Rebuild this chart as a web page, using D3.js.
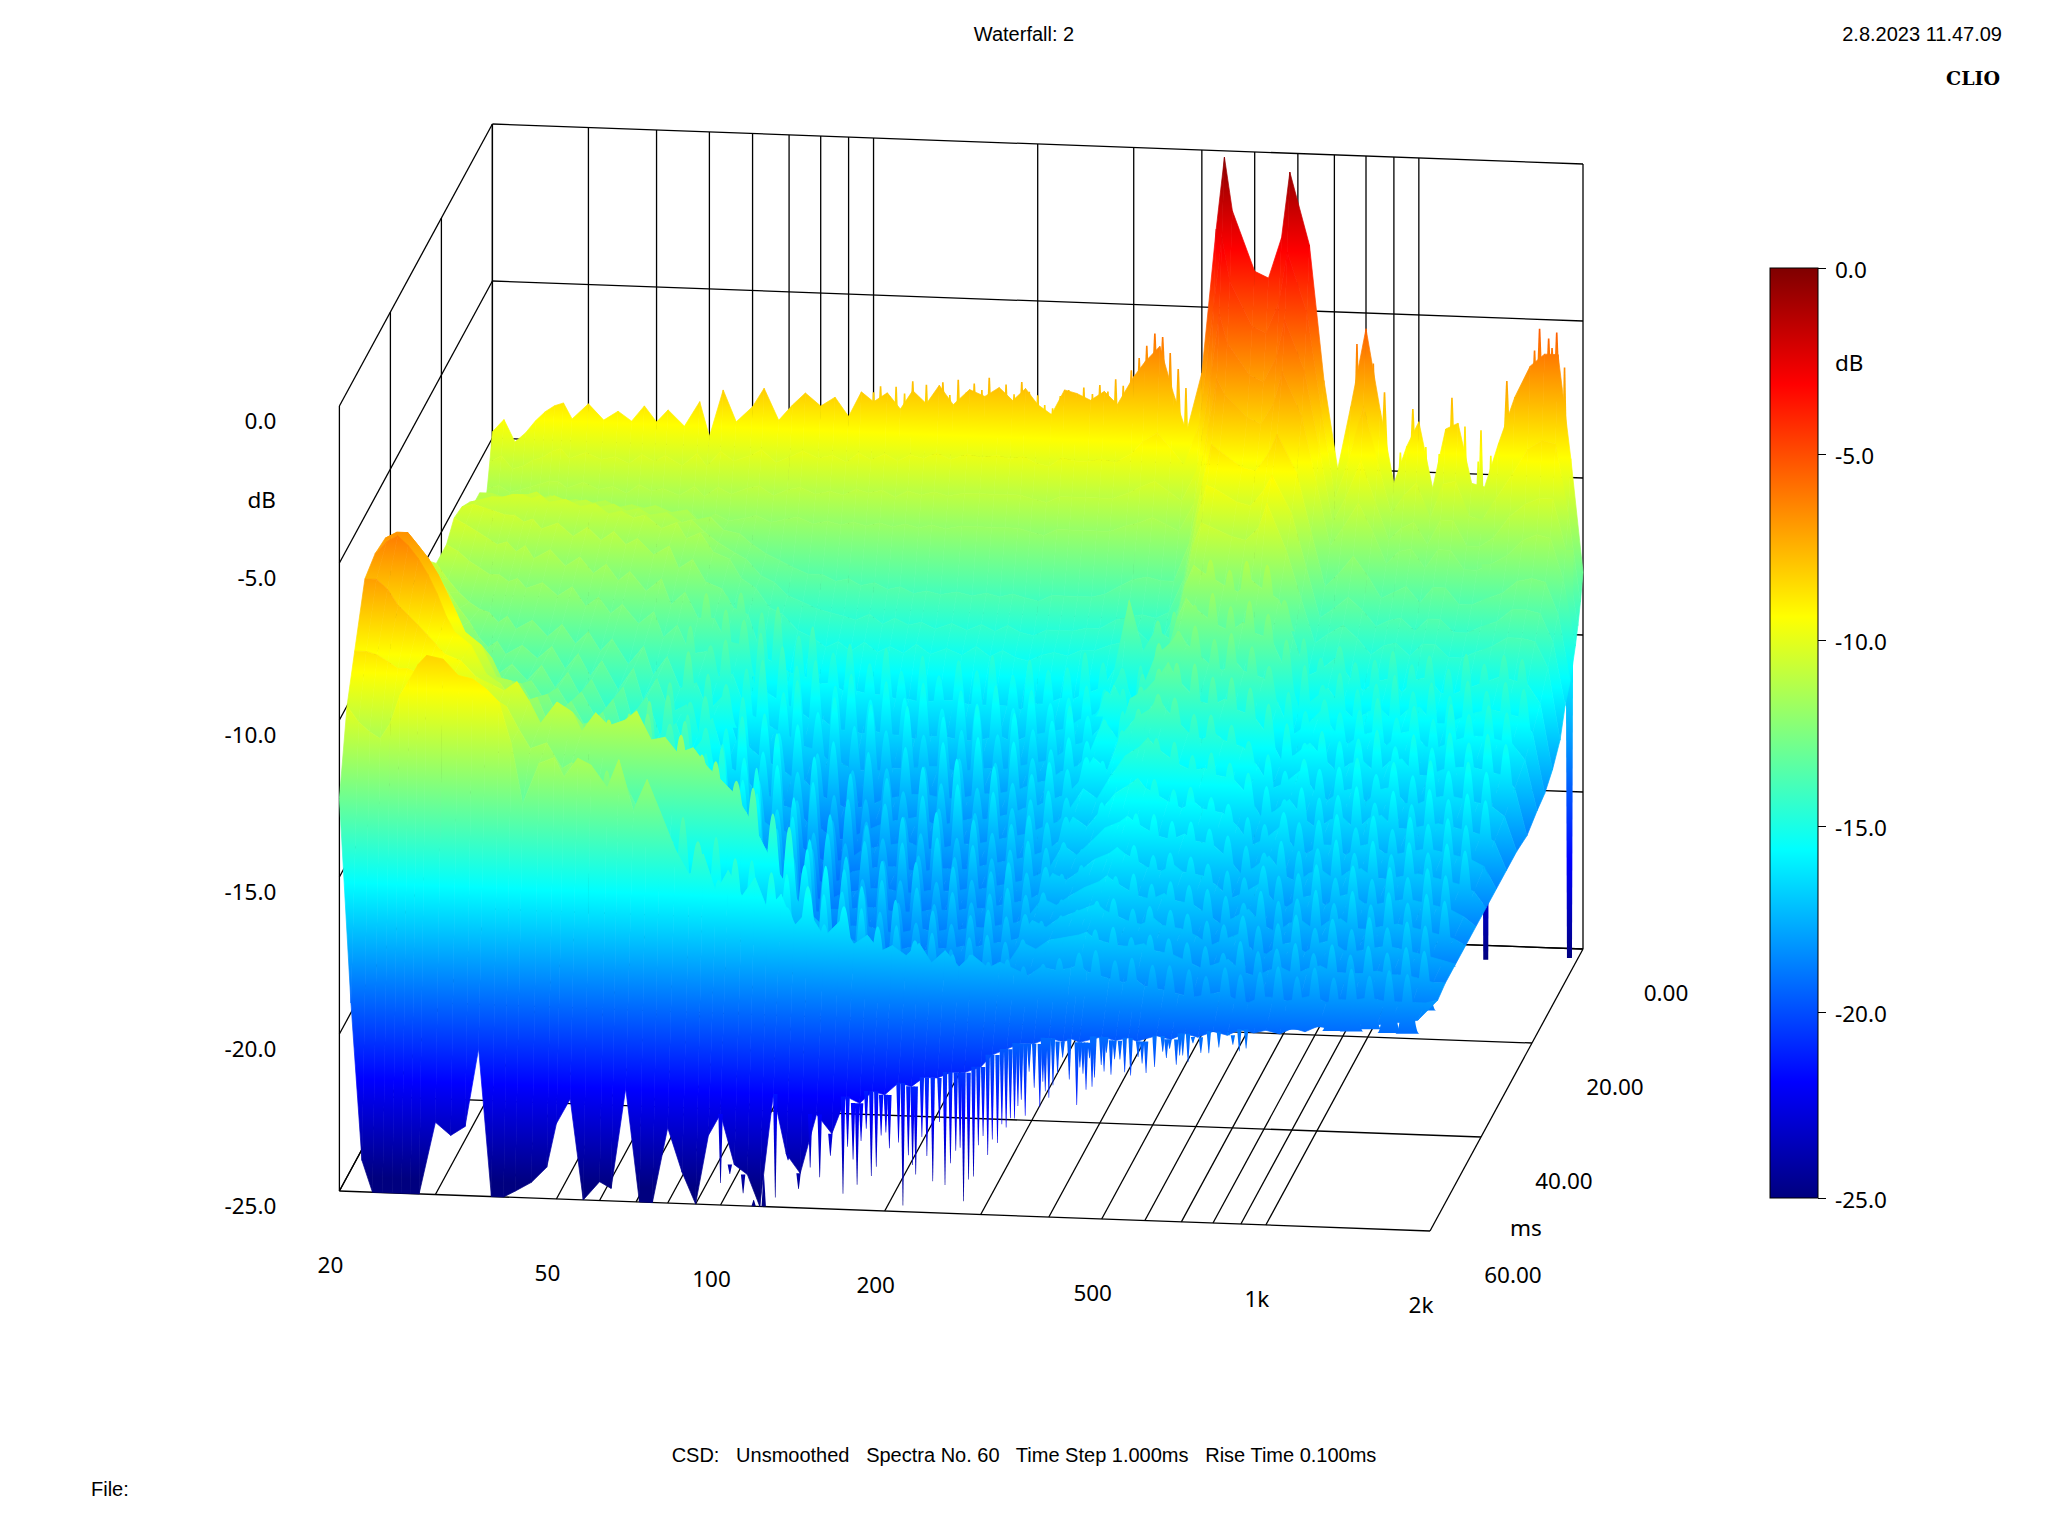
<!DOCTYPE html>
<html lang="en">
<head>
  <meta charset="UTF-8" />
  <title>Waterfall: 2</title>
  <script src="https://d3js.org/d3.v7.min.js"></script>
  <style>
    html, body { margin: 0; padding: 0; background: #fff; overflow: hidden; }
    svg { display: block; }
    text { fill: #000; }
    .head { font-family: "Liberation Sans", sans-serif; font-size: 20px; }
    .tick-label, .axis-bar text { font-family: "Noto Sans", sans-serif; font-size: 22.5px; }
  </style>
</head>
<body>
<svg id="chart" width="2048" height="1536"></svg>
<script>
const freqs = [20,21,22,23,24,25,26,27,28,30,
  32,34,36,38,40,42,45,48,50,53,
  56,60,63,67,71,75,80,85,90,95,
  100,106,112,118,125,132,140,150,160,170,
  180,190,200,212,224,236,250,265,280,300,
  315,335,355,375,400,425,440,455,500,530,
  560,580,630,670,710,750,800,850,900,950,
  1000,1060,1120,1180,1250,1320,1400,1500,1600,1700,
  1800,1900,2000];

const times = [0,1,2,3,5,7,9,12,15,18,22,26,30,34,38,42,46,50,54,57,60];

const spec00 = [-9.8,-9.4,-10.1,-9.8,-9.4,-9.1,-8.9,-8.8,-9.3,-8.8,
  -9.3,-9.0,-9.3,-8.8,-9.3,-8.9,-9.4,-8.6,-9.7,-8.2,
  -9.2,-8.7,-8.1,-9.1,-8.6,-8.2,-8.6,-8.3,-8.9,-8.1,
  -8.4,-8.1,-8.6,-8.0,-8.4,-7.8,-8.4,-7.9,-8.1,-7.8,
  -8.2,-7.8,-8.3,-8.6,-7.8,-7.9,-8.1,-7.8,-8.2,-7.3,
  -6.8,-6.3,-7.8,-9.0,-7.1,-2.5,-0.2,-1.9,-3.8,-4.0,
  -2.7,-0.6,-2.9,-7.2,-10.0,-8.0,-5.5,-8.1,-10.4,-9.2,
  -8.4,-10.5,-8.6,-8.4,-10.3,-10.4,-9.0,-7.5,-6.5,-6.1,-6.1,-9.4,-13.0];
const spec01 = [-10.6,-10.4,-10.8,-10.7,-10.5,-10.4,-10.2,-10.1,-10.4,-10.2,
  -10.4,-10.3,-10.5,-10.2,-10.4,-10.2,-10.5,-10.1,-10.5,-10.0,
  -10.3,-10.1,-9.9,-10.3,-10.1,-9.9,-10.1,-10.0,-10.2,-9.9,
  -10.1,-9.9,-10.1,-9.9,-10.0,-9.8,-10.0,-9.8,-9.9,-9.8,
  -9.9,-9.8,-10.0,-10.1,-9.8,-9.9,-9.9,-9.8,-9.9,-9.6,
  -9.2,-8.9,-9.4,-9.9,-8.6,-4.8,-2.6,-4.0,-5.4,-5.6,
  -4.6,-3.0,-4.9,-8.0,-10.8,-9.6,-7.8,-9.6,-11.2,-10.6,
  -10.2,-11.3,-10.2,-10.1,-11.2,-11.3,-10.6,-9.8,-9.0,-8.7,-8.8,-11.0,-13.8];
const spec02 = [-11.3,-11.2,-11.4,-11.3,-11.2,-11.1,-11.0,-11.0,-11.2,-11.0,
  -11.2,-11.1,-11.3,-11.0,-11.2,-11.1,-11.3,-11.0,-11.3,-11.0,
  -11.2,-11.0,-10.9,-11.2,-11.0,-10.9,-11.1,-11.0,-11.1,-10.9,
  -11.0,-10.9,-11.1,-10.9,-11.0,-10.9,-11.0,-10.9,-10.9,-10.9,
  -10.9,-10.9,-11.0,-11.1,-10.9,-10.9,-10.9,-10.9,-10.9,-10.7,
  -10.5,-10.3,-10.6,-10.9,-9.9,-6.8,-4.9,-5.8,-6.8,-7.0,
  -6.2,-5.0,-6.6,-9.0,-11.4,-10.6,-9.4,-10.7,-11.9,-11.5,
  -11.3,-12.0,-11.2,-11.2,-12.0,-12.0,-11.7,-11.0,-10.6,-10.4,-10.4,-12.0,-14.4];
const spec03 = [-11.8,-11.8,-11.9,-11.9,-11.8,-11.7,-11.7,-11.7,-11.8,-11.7,
  -11.8,-11.8,-11.9,-11.7,-11.9,-11.8,-12.0,-11.7,-12.0,-11.7,
  -11.9,-11.8,-11.7,-11.9,-11.8,-11.7,-11.9,-11.8,-11.9,-11.8,
  -11.9,-11.8,-11.9,-11.8,-11.9,-11.8,-11.9,-11.8,-11.8,-11.8,
  -11.8,-11.8,-11.9,-12.0,-11.8,-11.8,-11.8,-11.8,-11.8,-11.6,
  -11.5,-11.3,-11.5,-11.7,-10.8,-8.3,-6.8,-7.3,-8.0,-8.2,
  -7.5,-6.5,-7.9,-10.0,-12.0,-11.4,-10.6,-11.5,-12.5,-12.1,
  -12.0,-12.6,-12.0,-12.0,-12.6,-12.6,-12.4,-12.1,-11.6,-11.4,-11.5,-12.8,-14.9];
const spec05 = [-11.0,-11.0,-11.1,-11.1,-11.1,-11.2,-11.1,-11.0,-11.2,-11.1,
  -11.2,-11.1,-11.3,-11.2,-11.3,-11.2,-11.4,-11.3,-11.6,-11.5,
  -11.9,-12.0,-12.3,-12.6,-12.8,-13.0,-13.2,-13.2,-13.4,-13.3,
  -13.5,-13.4,-13.6,-13.5,-13.7,-13.6,-13.7,-13.6,-13.7,-13.6,
  -13.7,-13.6,-13.7,-13.8,-13.6,-13.6,-13.6,-13.6,-13.5,-13.2,
  -13.0,-12.9,-13.0,-13.0,-11.8,-9.7,-8.6,-8.8,-9.3,-9.4,
  -8.8,-8.2,-9.4,-11.3,-13.0,-12.6,-12.0,-12.6,-13.3,-13.1,
  -12.9,-13.4,-12.9,-12.9,-13.4,-13.4,-13.2,-13.0,-12.6,-12.5,-12.6,-13.6,-15.7];
const spec07 = [-11.0,-10.9,-10.9,-10.8,-10.7,-10.7,-10.6,-10.8,-10.7,-10.9,
  -10.8,-11.0,-10.9,-11.1,-11.0,-11.2,-11.1,-11.4,-11.3,-11.7,
  -12.0,-12.3,-12.5,-13.0,-13.2,-13.6,-13.8,-14.0,-14.1,-14.2,
  -14.3,-14.1,-14.4,-14.2,-14.4,-14.3,-14.5,-14.3,-14.5,-14.3,
  -14.5,-14.3,-14.5,-14.6,-14.4,-14.4,-14.4,-14.3,-14.3,-14.0,
  -13.9,-13.8,-13.9,-13.7,-12.6,-10.5,-9.6,-9.7,-10.1,-10.2,
  -9.7,-9.2,-10.4,-12.1,-13.7,-13.4,-13.0,-13.4,-13.9,-13.7,
  -13.6,-14.0,-13.6,-13.6,-14.0,-14.0,-13.8,-13.6,-13.2,-13.2,-13.3,-14.2,-16.2];
const spec09 = [-10.7,-10.6,-10.5,-10.5,-10.4,-10.4,-10.5,-10.4,-10.6,-10.5,
  -10.7,-10.6,-10.9,-10.8,-11.0,-10.9,-11.3,-11.1,-11.6,-11.4,
  -12.0,-12.2,-12.8,-13.1,-13.7,-13.9,-14.4,-14.6,-14.9,-14.7,
  -15.0,-14.7,-15.0,-14.8,-15.0,-14.7,-15.0,-14.8,-15.0,-14.7,
  -15.0,-14.8,-15.0,-15.1,-14.9,-14.8,-14.9,-14.7,-14.7,-14.5,
  -14.4,-14.0,-14.4,-14.2,-13.2,-11.2,-10.5,-10.6,-10.9,-11.0,
  -10.6,-9.8,-11.3,-12.8,-14.2,-13.9,-13.6,-14.0,-14.5,-14.2,
  -14.1,-14.5,-14.1,-14.1,-14.5,-14.5,-14.3,-14.1,-13.8,-13.8,-13.9,-14.7,-17.0];
const spec12 = [-10.4,-10.3,-10.4,-10.5,-10.6,-10.6,-10.8,-10.7,-11.0,-10.8,
  -11.2,-10.9,-11.3,-11.0,-11.4,-11.2,-11.7,-11.4,-12.1,-11.8,
  -12.5,-12.7,-13.3,-13.5,-14.8,-15.0,-15.3,-15.4,-15.6,-15.6,
  -15.8,-15.8,-15.9,-15.9,-16.0,-16.0,-16.1,-16.0,-16.0,-16.1,
  -16.1,-16.1,-16.1,-16.2,-16.0,-16.0,-15.8,-15.8,-15.6,-15.4,
  -14.8,-12.6,-14.2,-13.5,-13.8,-12.0,-11.4,-11.6,-12.0,-12.2,
  -11.8,-12.0,-12.4,-13.6,-14.8,-14.6,-14.2,-14.8,-15.2,-14.9,
  -14.8,-15.2,-14.8,-14.7,-15.2,-15.2,-15.0,-14.8,-14.6,-14.7,-14.8,-15.4,-17.5];
const spec15 = [-10.3,-10.5,-10.7,-10.9,-11.1,-11.0,-11.3,-11.1,-11.5,-11.2,
  -11.7,-11.4,-11.9,-11.6,-12.1,-11.8,-12.4,-12.0,-12.8,-12.4,
  -13.2,-13.2,-13.9,-14.0,-15.2,-15.5,-15.8,-16.0,-16.3,-16.3,
  -16.6,-16.6,-16.7,-16.6,-16.7,-16.7,-16.8,-16.7,-16.7,-16.8,
  -16.8,-16.7,-16.6,-16.8,-16.6,-16.5,-16.4,-16.3,-16.0,-15.8,
  -15.3,-14.4,-15.6,-15.3,-14.2,-12.6,-12.0,-12.3,-12.8,-13.0,
  -12.7,-13.0,-13.2,-14.2,-15.4,-15.1,-14.7,-15.3,-15.7,-15.4,
  -15.3,-15.7,-15.3,-15.2,-15.7,-15.7,-15.5,-15.3,-15.2,-15.3,-15.4,-15.9,-17.8];
const spec18 = [-10.7,-10.9,-11.2,-11.4,-11.6,-11.6,-11.8,-11.7,-12.0,-11.8,
  -12.2,-11.9,-12.5,-12.2,-12.7,-12.4,-13.0,-12.6,-13.4,-13.0,
  -13.9,-13.8,-14.6,-14.5,-15.7,-15.9,-16.2,-16.4,-16.7,-16.8,
  -17.1,-17.2,-17.4,-17.4,-17.4,-17.3,-17.3,-17.2,-17.2,-17.3,
  -17.3,-17.2,-17.2,-17.2,-17.1,-17.0,-16.9,-16.7,-16.4,-16.2,
  -15.8,-14.4,-15.2,-14.6,-13.4,-13.0,-12.6,-13.0,-13.6,-13.8,
  -13.5,-13.8,-14.0,-14.8,-15.8,-15.5,-15.0,-15.6,-16.0,-15.7,
  -15.6,-16.0,-15.6,-15.5,-16.0,-16.0,-15.8,-15.6,-15.6,-15.7,-15.8,-16.3,-17.9];
const spec22 = [-10.7,-11.2,-11.6,-11.9,-12.1,-12.2,-12.5,-12.3,-12.7,-12.4,
  -12.9,-12.5,-13.1,-12.7,-13.3,-12.9,-13.7,-13.1,-14.0,-13.4,
  -14.4,-14.2,-15.1,-14.6,-16.0,-16.2,-16.6,-16.8,-17.1,-17.2,
  -17.6,-17.8,-18.0,-18.0,-17.9,-17.7,-17.6,-17.5,-17.5,-17.6,
  -17.6,-17.5,-17.4,-17.4,-17.3,-17.2,-17.0,-16.9,-16.6,-16.4,
  -16.0,-14.9,-15.5,-14.2,-13.9,-13.4,-13.0,-13.5,-14.2,-14.3,
  -14.1,-14.4,-14.6,-15.2,-16.0,-15.8,-15.4,-15.9,-16.3,-16.0,
  -15.9,-16.3,-15.9,-15.8,-16.3,-16.3,-16.1,-16.0,-16.0,-16.1,-16.2,-16.6,-18.1];
const spec26 = [-10.0,-10.5,-11.0,-11.5,-11.9,-12.4,-12.7,-12.5,-12.9,-12.6,
  -13.0,-12.6,-13.3,-12.8,-13.5,-13.0,-13.9,-13.2,-14.2,-13.5,
  -14.6,-14.3,-15.3,-14.7,-16.2,-16.4,-16.9,-17.1,-17.4,-17.5,
  -17.9,-18.1,-18.4,-18.4,-18.2,-18.0,-17.8,-17.7,-17.6,-17.8,
  -17.8,-17.7,-17.6,-17.6,-17.5,-17.4,-17.2,-17.1,-16.9,-16.7,
  -16.3,-15.5,-15.9,-14.8,-14.2,-13.9,-13.5,-13.9,-14.6,-14.8,
  -14.6,-14.8,-15.0,-15.6,-16.3,-16.1,-15.7,-16.3,-16.6,-16.3,
  -16.2,-16.6,-16.2,-16.1,-16.6,-16.6,-16.4,-16.3,-16.4,-16.5,-16.6,-16.9,-18.0];
const spec30 = [-9.2,-9.6,-10.3,-10.9,-11.5,-12.0,-12.5,-12.6,-13.0,-12.6,
  -13.1,-12.6,-13.3,-12.8,-13.5,-13.0,-14.0,-13.2,-14.3,-13.5,
  -14.7,-14.3,-15.4,-14.8,-16.3,-16.6,-17.0,-17.2,-17.5,-17.6,
  -18.0,-18.3,-18.5,-18.5,-18.4,-18.1,-18.0,-17.9,-17.8,-18.0,
  -18.0,-17.9,-17.8,-17.8,-17.7,-17.6,-17.5,-17.4,-17.2,-17.0,
  -16.6,-15.9,-16.2,-15.5,-14.8,-14.5,-14.2,-14.5,-15.0,-15.2,
  -15.1,-15.3,-15.4,-15.9,-16.6,-16.4,-16.0,-16.6,-16.9,-16.6,
  -16.5,-16.9,-16.5,-16.4,-16.8,-16.8,-16.7,-16.6,-16.7,-16.8,-16.9,-17.1,-18.0];
const spec34 = [-8.2,-8.7,-9.4,-10.1,-10.8,-11.5,-12.0,-12.3,-12.8,-12.5,
  -13.0,-12.5,-13.1,-12.7,-13.3,-12.8,-13.7,-13.0,-14.0,-13.3,
  -14.5,-14.1,-15.2,-14.6,-16.2,-16.6,-17.0,-17.3,-17.5,-17.7,
  -18.0,-18.3,-18.5,-18.6,-18.5,-18.2,-18.1,-18.0,-18.0,-18.1,
  -18.1,-18.0,-18.0,-18.0,-17.9,-17.8,-17.7,-17.6,-17.5,-17.3,
  -17.0,-16.2,-16.5,-16.0,-15.4,-15.1,-14.9,-15.2,-15.6,-15.8,
  -15.6,-15.8,-15.9,-16.3,-16.9,-16.7,-16.3,-16.9,-17.1,-16.8,
  -16.8,-17.1,-16.8,-16.7,-17.0,-17.0,-16.9,-16.8,-16.9,-17.0,-17.1,-17.3,-18.0];
const spec38 = [-7.4,-7.7,-8.2,-8.9,-9.5,-10.0,-10.5,-10.8,-11.0,-11.2,
  -12.2,-12.0,-12.7,-12.3,-13.1,-12.5,-13.4,-12.8,-13.8,-13.0,
  -14.2,-13.8,-14.9,-14.3,-16.0,-16.4,-16.9,-17.2,-17.5,-17.7,
  -18.0,-18.2,-18.4,-18.5,-18.5,-18.3,-18.2,-18.1,-18.1,-18.2,
  -18.2,-18.1,-18.1,-18.1,-18.0,-18.0,-17.9,-17.8,-17.7,-17.5,
  -17.3,-16.5,-16.8,-16.4,-15.9,-15.7,-15.5,-15.7,-16.1,-16.2,
  -16.0,-16.2,-16.3,-16.7,-17.2,-17.0,-16.6,-17.2,-17.4,-17.1,
  -17.0,-17.3,-17.0,-16.9,-17.2,-17.2,-17.1,-17.0,-17.1,-17.2,-17.3,-17.5,-18.0];
const spec42 = [-6.9,-6.7,-6.7,-7.1,-7.5,-8.0,-8.6,-9.2,-9.8,-10.2,
  -11.2,-11.3,-12.0,-11.8,-12.7,-12.2,-13.0,-12.5,-13.4,-12.8,
  -13.8,-13.4,-14.5,-14.0,-15.6,-16.0,-16.5,-16.9,-17.2,-17.4,
  -17.8,-18.0,-18.2,-18.3,-18.3,-18.2,-18.2,-18.1,-18.1,-18.2,
  -18.2,-18.2,-18.1,-18.1,-18.1,-18.0,-18.0,-17.9,-17.8,-17.7,
  -17.5,-16.8,-17.0,-16.7,-16.3,-16.1,-15.9,-16.1,-16.5,-16.6,
  -16.4,-16.6,-16.7,-17.0,-17.4,-17.2,-16.9,-17.4,-17.6,-17.3,
  -17.2,-17.5,-17.2,-17.1,-17.4,-17.4,-17.3,-17.2,-17.3,-17.4,-17.5,-17.7,-18.0];
const spec46 = [-6.8,-6.4,-6.2,-6.5,-6.9,-7.4,-8.0,-8.7,-9.2,-9.6,
  -10.5,-10.8,-11.4,-11.3,-12.1,-11.7,-12.5,-12.0,-13.0,-12.3,
  -13.3,-13.0,-14.1,-13.6,-15.0,-15.4,-15.9,-16.3,-16.7,-17.0,
  -17.4,-17.7,-18.0,-18.1,-18.2,-18.2,-18.2,-18.1,-18.1,-18.2,
  -18.3,-18.2,-18.1,-18.2,-18.1,-18.1,-18.0,-18.0,-17.9,-17.8,
  -17.6,-17.0,-17.2,-16.9,-16.6,-16.4,-16.2,-16.4,-16.8,-16.9,
  -16.7,-16.9,-17.0,-17.3,-17.6,-17.4,-17.1,-17.6,-17.8,-17.5,
  -17.4,-17.7,-17.4,-17.3,-17.6,-17.6,-17.5,-17.4,-17.5,-17.6,-17.7,-17.8,-18.0];
const spec50 = [-7.0,-7.0,-7.3,-7.8,-8.1,-8.4,-8.7,-9.0,-9.3,-9.5,
  -10.0,-10.2,-10.4,-10.1,-10.7,-11.4,-10.7,-11.0,-11.6,-11.0,
  -11.4,-11.2,-10.9,-11.8,-11.7,-12.2,-12.0,-12.6,-13.0,-13.4,
  -14.0,-14.8,-15.6,-16.2,-16.8,-17.2,-17.6,-17.8,-18.0,-18.1,
  -18.2,-18.2,-18.1,-18.2,-18.1,-18.1,-18.0,-18.0,-17.9,-17.8,
  -17.7,-17.1,-17.3,-17.0,-16.8,-16.6,-16.5,-16.7,-17.0,-17.1,
  -16.9,-17.1,-17.2,-17.4,-17.7,-17.5,-17.3,-17.8,-17.9,-17.6,
  -17.5,-17.8,-17.5,-17.4,-17.7,-17.7,-17.6,-17.5,-17.6,-17.7,-17.8,-17.9,-18.0];
const spec54 = [-8.7,-8.7,-8.8,-9.0,-9.2,-9.2,-9.3,-9.3,-9.6,-9.5,
  -10.2,-10.0,-10.6,-10.3,-11.0,-11.6,-11.4,-12.2,-12.0,-12.4,
  -12.6,-13.0,-12.7,-13.6,-14.6,-15.0,-15.4,-15.4,-16.0,-15.8,
  -16.4,-16.6,-17.0,-17.2,-17.4,-17.6,-17.8,-18.0,-18.1,-18.2,
  -18.3,-18.3,-18.3,-18.3,-18.2,-18.2,-18.2,-18.1,-18.1,-18.0,
  -17.9,-17.2,-17.4,-17.1,-17.0,-16.9,-16.8,-17.0,-17.2,-17.2,
  -17.1,-17.3,-17.4,-17.6,-17.8,-17.7,-17.5,-17.9,-18.0,-17.8,
  -17.7,-17.9,-17.7,-17.6,-17.8,-17.8,-17.8,-17.7,-17.8,-17.8,-17.9,-18.0,-18.0];
const spec57 = [-10.0,-10.5,-10.8,-11.0,-10.5,-9.6,-9.1,-8.6,-8.3,-8.4,
  -8.9,-9.0,-9.3,-9.7,-11.0,-12.9,-11.6,-11.4,-12.0,-11.4,
  -11.6,-12.3,-11.4,-13.0,-12.0,-13.0,-14.2,-15.0,-14.3,-15.5,
  -14.8,-15.6,-15.0,-16.0,-15.5,-16.5,-16.0,-16.8,-16.3,-17.0,
  -16.7,-17.2,-17.0,-17.3,-16.9,-17.5,-17.1,-17.6,-17.2,-17.6,
  -17.4,-17.6,-17.8,-17.5,-17.6,-17.5,-17.4,-17.6,-17.8,-17.9,
  -17.8,-18.0,-18.1,-18.2,-18.3,-18.2,-18.1,-18.3,-18.4,-18.2,
  -18.2,-18.3,-18.2,-18.1,-18.3,-18.2,-18.2,-18.1,-18.2,-18.2,-18.2,-18.2,-18.1];
const spec60 = [-12.5,-19.0,-24.0,-25.0,-25.0,-25.0,-25.0,-25.0,-25.0,-22.7,
  -23.1,-22.8,-20.3,-25.0,-25.0,-24.8,-24.5,-24.0,-22.6,-21.8,
  -25.0,-24.4,-24.6,-21.4,-25.0,-25.0,-22.6,-24.0,-25.0,-22.8,
  -22.1,-23.7,-24.0,-25.0,-21.4,-23.3,-23.9,-22.0,-22.6,-21.4,
  -21.6,-21.2,-21.3,-20.9,-21.0,-20.7,-20.7,-20.5,-20.5,-20.3,
  -19.9,-19.7,-19.5,-19.5,-19.3,-19.4,-19.3,-19.4,-19.2,-19.3,
  -19.2,-19.3,-19.1,-19.2,-19.0,-19.1,-18.9,-19.0,-18.8,-18.9,
  -18.8,-18.9,-18.7,-18.8,-18.6,-18.7,-18.6,-18.5,-18.5,-18.4,-18.4,-18.3,-17.9];

const spectra = [spec00,spec01,spec02,spec03,spec05,spec07,spec09,spec12,spec15,spec18,spec22,
  spec26,spec30,spec34,spec38,spec42,spec46,spec50,spec54,spec57,spec60];

// crests: the small rounded peaks standing on each later spectrum
const crestFreqsA = [56,61,65,71,76,83,88,96,103,112,120,128,140,150,163,176,188,205,220,238,258,278,300,325,348,378,405,440,472,512,550,600,645,700,752,815,870,945,1020,1105,1190,1290,1390,1500,1630,1760];
const crestFreqsB = [58,63,68,73,80,85,92,100,107,116,124,134,145,157,170,182,197,212,229,248,268,289,312,336,363,392,423,456,492,531,575,622,672,726,783,842,907,982,1062,1147,1240,1340,1445,1565,1695,1830];
const crestTimes = [12,15,18,22,26,30,34,38,42,46,50,54,57];
const crest12 = [-12.6,-12.9,-12.8,-13.4,-13.2,-14.1,-13.8,-14.6,-14.3,-14.9,-14.4,-15.1,-14.6,-15.2,-14.7,-15.0,-14.5,-15.1,-14.6,-14.9,-14.8,-14.3,-14.6,-13.9,-13.7,-13.2,-12.9,-11.6,-11.2,-11.5,-11.2,-11.3,-12.4,-13.6,-14.2,-13.8,-14.3,-14.2,-13.9,-14.3,-14.0,-14.4,-13.9,-14.2,-13.9,-14.0];
const crest15 = [-12.4,-12.9,-13.2,-13.6,-14.0,-14.6,-14.4,-15.2,-14.8,-15.6,-15.0,-15.5,-15.0,-15.8,-15.2,-15.6,-15.0,-15.7,-15.1,-15.5,-15.3,-14.9,-15.0,-14.3,-14.2,-13.8,-13.0,-12.2,-11.8,-12.2,-12.0,-12.4,-13.2,-14.0,-14.6,-14.2,-14.7,-14.5,-14.2,-14.7,-14.4,-14.8,-14.3,-14.6,-14.3,-14.5];
const crest18 = [-13.0,-13.6,-13.4,-14.3,-14.0,-15.0,-14.6,-15.6,-15.1,-16.0,-15.3,-16.1,-15.3,-16.2,-15.6,-16.0,-15.2,-16.1,-15.4,-15.9,-15.6,-15.1,-15.4,-14.6,-14.5,-14.0,-13.0,-12.6,-12.4,-12.8,-12.6,-13.0,-13.6,-14.4,-15.0,-14.6,-15.0,-14.9,-14.5,-15.1,-14.7,-15.1,-14.6,-14.9,-14.6,-14.8];
const crest22 = [-13.2,-13.9,-14.2,-14.6,-15.1,-15.7,-15.4,-16.3,-15.9,-16.8,-16.2,-16.7,-16.0,-16.6,-15.8,-16.3,-15.6,-16.4,-15.7,-16.2,-15.9,-15.5,-15.6,-14.9,-14.6,-13.8,-13.2,-13.0,-13.0,-13.4,-13.4,-13.7,-14.2,-14.8,-15.4,-15.0,-15.3,-15.2,-14.9,-15.4,-15.0,-15.4,-14.9,-15.2,-14.9,-15.2];
const crest26 = [-13.6,-14.2,-14.0,-15.0,-14.6,-15.7,-15.1,-16.3,-15.8,-17.0,-16.3,-17.1,-16.4,-16.8,-16.0,-16.5,-15.7,-16.6,-15.9,-16.4,-16.1,-15.7,-15.9,-15.5,-15.6,-14.6,-13.9,-13.4,-13.5,-14.0,-14.0,-14.3,-14.8,-15.2,-15.7,-15.3,-15.6,-15.5,-15.2,-15.7,-15.3,-15.7,-15.2,-15.5,-15.2,-15.5];
const crest30 = [-13.4,-14.0,-14.4,-14.9,-15.3,-16.0,-15.5,-16.6,-16.0,-17.2,-16.5,-17.2,-16.6,-17.0,-16.3,-16.7,-15.9,-16.8,-16.1,-16.6,-16.3,-16.0,-16.2,-16.0,-16.2,-15.2,-14.8,-14.2,-14.3,-14.7,-14.6,-14.9,-15.2,-15.6,-16.0,-15.6,-15.9,-15.8,-15.5,-16.0,-15.6,-16.0,-15.5,-15.8,-15.6,-15.8];
const crest34 = [-13.0,-13.7,-13.6,-14.6,-14.4,-15.4,-15.0,-16.3,-15.9,-17.0,-16.4,-17.3,-16.7,-17.1,-16.4,-16.9,-16.2,-17.0,-16.4,-16.8,-16.5,-16.2,-16.4,-16.2,-16.4,-15.7,-15.4,-14.9,-14.9,-15.2,-15.1,-15.4,-15.6,-16.0,-16.2,-15.8,-16.1,-16.0,-15.8,-16.2,-15.8,-16.2,-15.8,-16.0,-15.8,-16.0];
const crest38 = [-12.8,-13.6,-14.0,-14.6,-14.9,-15.6,-15.2,-16.3,-15.9,-16.9,-16.4,-17.2,-16.6,-17.2,-16.6,-17.0,-16.4,-17.0,-16.6,-17.0,-16.7,-16.4,-16.6,-16.4,-16.6,-16.1,-15.9,-15.4,-15.4,-15.6,-15.6,-15.8,-16.0,-16.3,-16.5,-16.1,-16.4,-16.3,-16.0,-16.4,-16.0,-16.4,-16.0,-16.3,-16.0,-16.2];
const crest42 = [-12.2,-13.0,-13.0,-14.0,-13.9,-14.9,-14.6,-15.9,-15.4,-16.6,-16.0,-17.0,-16.5,-17.2,-16.6,-17.2,-16.6,-17.2,-16.7,-17.1,-16.8,-16.5,-16.8,-16.6,-16.8,-16.5,-16.3,-15.9,-15.8,-16.1,-16.0,-16.1,-16.3,-16.5,-16.7,-16.3,-16.6,-16.5,-16.2,-16.6,-16.2,-16.6,-16.2,-16.5,-16.2,-16.4];
const crest46 = [-11.9,-12.8,-13.2,-13.9,-14.2,-15.0,-14.6,-15.6,-15.2,-16.2,-15.7,-16.8,-16.3,-17.0,-16.6,-17.3,-16.8,-17.3,-16.9,-17.2,-16.9,-16.7,-16.9,-16.8,-17.0,-16.7,-16.5,-16.2,-16.1,-16.4,-16.3,-16.4,-16.5,-16.7,-16.9,-16.5,-16.8,-16.7,-16.4,-16.8,-16.4,-16.8,-16.4,-16.7,-16.4,-16.6];
const crest50 = [-11.2,-11.8,-11.4,-12.0,-11.6,-12.2,-12.4,-13.0,-13.2,-14.0,-14.4,-15.6,-15.6,-16.4,-16.2,-17.0,-16.6,-17.3,-16.9,-17.3,-17.0,-16.8,-17.0,-16.9,-17.1,-16.9,-16.7,-16.4,-16.3,-16.6,-16.5,-16.6,-16.7,-16.9,-17.0,-16.7,-17.0,-16.9,-16.6,-17.0,-16.7,-17.0,-16.6,-16.9,-16.7,-16.8];
const crest54 = [-12.2,-13.2,-12.9,-14.0,-13.6,-14.8,-14.2,-15.2,-14.9,-15.7,-15.3,-16.3,-15.9,-16.8,-16.3,-17.2,-16.8,-17.4,-17.0,-17.5,-17.1,-17.0,-17.2,-17.1,-17.3,-17.1,-17.0,-16.7,-16.6,-16.9,-16.8,-16.9,-17.0,-17.1,-17.3,-16.9,-17.2,-17.1,-16.9,-17.2,-16.9,-17.2,-16.9,-17.1,-16.9,-17.0];
const crest57 = [-12.4,-13.4,-12.9,-14.0,-13.4,-14.7,-13.9,-15.1,-14.4,-15.6,-14.8,-15.9,-15.2,-16.4,-15.8,-16.9,-16.4,-17.3,-16.8,-17.6,-17.2,-17.2,-17.4,-17.3,-17.5,-17.4,-17.2,-17.0,-16.9,-17.2,-17.1,-17.3,-17.3,-17.4,-17.6,-17.3,-17.5,-17.4,-17.2,-17.5,-17.2,-17.5,-17.2,-17.4,-17.2,-17.3];
const crests = [crest12,crest15,crest18,crest22,crest26,crest30,crest34,crest38,crest42,crest46,crest50,crest54,crest57];

// thin notches under the last spectrum
const combFreqs = [100,104,110,115,120,126,133,139,146,152,159,167.7,171,175,178,181,185,189,193,197,201,204,212,216,221,225,228,234,239,245,252,258,264,270,275,279,285,291,297,303,309,315,322,328,334,340,346,351,356,362,368,376,385,390,394,400,407,415,424,436,450,456,462,468,475,480,485,499,505,510,520,528,540,551,565,583,593,603,625,647,657,666,685,695,704,720,735,760,786,820,852,870,894,920];
const combDb = [-24.3,-24.0,-24.6,-24.8,-24.0,-24.7,-23.5,-24.4,-23.7,-24.0,-23.3,-24.5,-23.0,-23.4,-24.2,-22.8,-22.4,-23.9,-23.6,-22.6,-22.5,-23.0,-22.8,-24.8,-23.2,-23.5,-23.8,-22.6,-23.2,-24.0,-22.1,-24.1,-23.4,-23.0,-22.9,-24.6,-23.9,-23.8,-22.8,-22.5,-23.1,-22.6,-22.7,-22.1,-22.2,-21.9,-21.9,-21.5,-21.3,-21.8,-20.4,-20.9,-21.5,-20.7,-21.0,-21.2,-20.8,-20.4,-19.9,-20.6,-21.4,-20.2,-20.4,-20.9,-19.9,-20.8,-20.5,-20.1,-20.3,-19.7,-20.4,-19.9,-19.9,-20.3,-20.4,-19.8,-20.0,-20.3,-20.1,-19.6,-19.8,-19.5,-20.0,-19.7,-19.7,-19.9,-19.3,-19.6,-19.6,-19.4,-18.9,-19.3,-19.5,-19.4];

// thin peaks on the top of the first spectrum
const fringeFreqs = [100,103,107,110,114,118,121,125,129,134,138,143,148,153,158,163,169,175,181,187,193,200,206,213,220,228,236,243,252,260,269,278,287,297,307,317,328,339,350,362,374,387,
  770,825,865,925,975,1030,1090,1150,1215,1285,1300,1355,1450,1475,1520,1560,1630,1665,1730,1755,1790,1850];
const fringeDb = [-8.1,-7.9,-8.2,-7.9,-8.1,-7.7,-8.2,-7.8,-8.1,-7.7,-8.1,-7.6,-8.0,-7.7,-7.9,-7.5,-7.9,-7.7,-8.0,-7.6,-7.9,-8.0,-8.3,-8.4,-8.0,-7.8,-8.0,-7.7,-7.9,-7.6,-7.8,-7.4,-7.6,-7.1,-6.7,-6.3,-5.9,-6.0,-6.5,-7.0,-7.6,-8.2,
  -6.0,-6.6,-7.5,-9.4,-8.0,-9.2,-9.4,-7.6,-8.5,-9.6,-8.6,-9.4,-7.0,-8.0,-7.8,-7.0,-6.0,-5.3,-5.6,-5.9,-5.4,-6.5];

// two narrow holes that reach the floor near the back right corner
const rearFreqs = [1370,1930];
const rearSpectrum = [3,2];
const rearDb = [-25,-25];

const dbTicks = [0,-5,-10,-15,-20,-25];
const timeTicks = [0,20,40,60];
const freqGrid = [20,30,40,50,60,70,80,90,100,200,300,400,500,600,700,800,900,1000,2000];
const freqLabels = [[20,"20"],[50,"50"],[100,"100"],[200,"200"],[500,"500"],[1000,"1k"],[2000,"2k"]];
const jetColors = ["#00007f","#0000ff","#00ffff","#ffff00","#ff0000","#7f0000"];
const jetStops = [0,0.125,0.375,0.625,0.875,1];

const svg = d3.select("#chart");
const defs = svg.append("defs");

const fScale = d3.scaleLog().domain([20,2000]).range([0,1090.6]);
const tScale = d3.scaleLinear().domain([0,60]).range([0,1]);
const dbScale = d3.scaleLinear().domain([-25,0]).range([0,785]);
const skew = 40 / 1090.6;

function project(f, t, db) {
  const u = fScale(f), d = tScale(t);
  return [492.4 + u - 153 * d, 909 + skew * u + 282 * d - dbScale(db)];
}

function addGradient(id, t) {
  // colour follows dB, so the gradient is sheared along the slice floor
  const p = project(20, t, -25);
  const y0 = p[1] - skew * p[0];
  const g = defs.append("linearGradient").attr("id", id)
    .attr("gradientUnits", "userSpaceOnUse")
    .attr("x1", 0).attr("x2", 0).attr("y1", y0).attr("y2", y0 - 785)
    .attr("gradientTransform", `matrix(1,${skew},0,1,0,0)`);
  jetStops.forEach((s, i) => g.append("stop").attr("offset", s).attr("stop-color", jetColors[i]));
}

// grid
const grid = svg.append("g").attr("stroke", "#000").attr("stroke-width", 1.3).attr("fill", "none");
const segment = (a, b) => grid.append("line").attr("x1", a[0]).attr("y1", a[1]).attr("x2", b[0]).attr("y2", b[1]);
dbTicks.forEach(db => {
  segment(project(20, 0, db), project(2000, 0, db));
  segment(project(20, 0, db), project(20, 60, db));
});
freqGrid.forEach(f => {
  segment(project(f, 0, -25), project(f, 0, 0));
  segment(project(f, 0, -25), project(f, 60, -25));
});
timeTicks.forEach(t => {
  segment(project(20, t, -25), project(20, t, 0));
  segment(project(20, t, -25), project(2000, t, -25));
});

// surface, back to front
const surface = svg.append("g");
times.forEach((t, j) => addGradient("slice" + j, t));

function nearestValue(row, f) {
  const i = Math.min(d3.bisectLeft(freqs, f), freqs.length - 1);
  return row[i > 0 && f - freqs[i - 1] < freqs[i] - f ? i - 1 : i];
}

function spike(f, rowIndex, db, halfWidth, tipWidth) {
  const t = times[rowIndex];
  const top = project(f, t, nearestValue(spectra[rowIndex], f));
  const tip = project(f, t, db);
  surface.append("path")
    .attr("d", `M${top[0] - halfWidth},${top[1]}L${tip[0] - tipWidth},${tip[1]}L${tip[0] + tipWidth},${tip[1]}L${top[0] + halfWidth},${top[1]}Z`)
    .attr("fill", `url(#slice${rowIndex})`);
}

function fringe(f, db) {
  // rooted well inside the first spectrum so that it never floats
  const tip = project(f, 0, db);
  const foot = project(f, 0, Math.min(db, nearestValue(spec00, f)) - 1.5);
  surface.append("path")
    .attr("d", `M${foot[0] - 3.5},${foot[1]}L${tip[0] - 0.8},${tip[1]}L${tip[0] + 0.8},${tip[1]}L${foot[0] + 3.5},${foot[1]}Z`)
    .attr("fill", "url(#slice0)");
}

function crest(f, rowIndex, db) {
  const row = spectra[rowIndex], t = times[rowIndex], w = 12;
  const foot = nearestValue(row, f) - 1;
  const a = project(f, t, db), base = project(f, t, foot);
  if (db <= foot) return;
  const lx = a[0] - w, rx = a[0] + w;
  surface.append("path")
    .attr("d", `M${lx},${base[1]}C${lx + w * 0.5},${base[1]} ${a[0] - w * 0.4},${a[1]} ${a[0]},${a[1]}` +
      `C${a[0] + w * 0.4},${a[1]} ${rx - w * 0.5},${base[1]} ${rx},${base[1]}Z`)
    .attr("fill", `url(#slice${rowIndex})`);
}

fringeFreqs.forEach((f, i) => fringe(f, fringeDb[i]));

for (let j = 0; j < times.length - 1; j++) {
  // crests of this spectrum stand behind the band that runs forward from it
  const c = crestTimes.indexOf(times[j]);
  if (c >= 0) {
    const list = c % 2 === 0 ? crestFreqsA : crestFreqsB;
    list.forEach((f, i) => crest(f, j, crests[c][i]));
  }
  const a = spectra[j], b = spectra[j + 1];
  const paint = `url(#slice${j})`;
  for (let i = 0; i < freqs.length - 1; i++) {
    if (a[i] <= -25 && a[i + 1] <= -25 && b[i] <= -25 && b[i + 1] <= -25) continue;
    const pts = [project(freqs[i], times[j], a[i]), project(freqs[i + 1], times[j], a[i + 1]),
      project(freqs[i + 1], times[j + 1], b[i + 1]), project(freqs[i], times[j + 1], b[i])];
    surface.append("path").attr("d", "M" + pts.join("L") + "Z")
      .attr("fill", paint).attr("stroke", paint).attr("stroke-width", 0.7);
  }
  rearFreqs.forEach((f, i) => { if (rearSpectrum[i] === times[j]) spike(f, j, rearDb[i], 4, 2.5); });
}
combFreqs.forEach((f, i) => spike(f, times.length - 1, combDb[i], 2.2, 0.3));

// axis labels
const labels = svg.append("g").attr("class", "tick-label").attr("text-anchor", "middle");
dbTicks.forEach(db => {
  const p = project(20, 60, db);
  labels.append("text").attr("x", p[0] - 63).attr("y", p[1] + 23)
    .attr("text-anchor", "end").text(db.toFixed(1));
});
labels.append("text").attr("x", 276).attr("y", 508).attr("text-anchor", "end").text("dB");
freqLabels.forEach(d => {
  const p = project(d[0], 60, -25);
  labels.append("text").attr("x", p[0] - 9).attr("y", p[1] + 82).text(d[1]);
});
timeTicks.forEach(t => {
  const p = project(2000, t, -25);
  labels.append("text").attr("x", p[0] + 83).attr("y", p[1] + 52).text(t.toFixed(2));
});
labels.append("text").attr("x", 1526).attr("y", 1236).text("ms");

// colour bar
const barScale = d3.scaleLinear().domain([-25,0]).range([1198,268]);
const barGrad = defs.append("linearGradient").attr("id", "bar").attr("x1", 0).attr("x2", 0).attr("y1", 1).attr("y2", 0);
jetStops.forEach((s, i) => barGrad.append("stop").attr("offset", s).attr("stop-color", jetColors[i]));
svg.append("rect").attr("x", 1770).attr("y", barScale(0)).attr("width", 48)
  .attr("height", barScale(-25) - barScale(0)).attr("fill", "url(#bar)").attr("stroke", "#000").attr("stroke-width", 1);
const barAxis = svg.append("g").attr("class", "axis-bar").attr("transform", "translate(1818,0)")
  .call(d3.axisRight(barScale).tickValues(dbTicks).tickSize(8).tickPadding(9).tickFormat(d => d.toFixed(1)));
barAxis.select(".domain").remove();
barAxis.selectAll("text").attr("dy", "0.42em").attr("fill", "#000");
labels.append("text").attr("x", 1835).attr("y", 371).attr("text-anchor", "start").text("dB");

// header and footer
const head = svg.append("g").attr("class", "head");
head.append("text").attr("x", 1024).attr("y", 41).attr("text-anchor", "middle").text("Waterfall: 2");
head.append("text").attr("x", 2002).attr("y", 41).attr("text-anchor", "end").text("2.8.2023 11.47.09");
head.append("text").attr("x", 2000).attr("y", 85).attr("text-anchor", "end")
  .attr("font-family", "'DejaVu Serif', serif").attr("font-weight", "bold").attr("font-size", 19).text("CLIO");
head.append("text").attr("x", 1024).attr("y", 1462).attr("text-anchor", "middle")
  .style("white-space", "pre").text("CSD:   Unsmoothed   Spectra No. 60   Time Step 1.000ms   Rise Time 0.100ms");
head.append("text").attr("x", 91).attr("y", 1496).text("File:");
</script>
</body>
</html>
